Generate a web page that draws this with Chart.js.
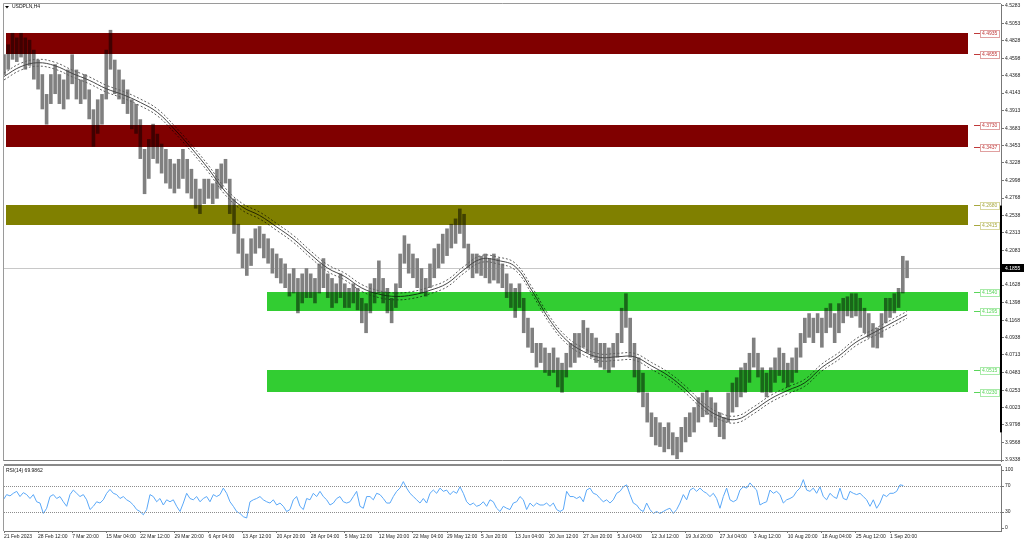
<!DOCTYPE html>
<html><head><meta charset="utf-8">
<script src="https://cdn.jsdelivr.net/npm/chart.js@4"></script>
<style>
html,body{margin:0;padding:0;background:#fff;width:1024px;height:544px;overflow:hidden}
#main{position:absolute;left:0;top:0;width:1024px;height:465px}
#rsi{position:absolute;left:0;top:464px;width:1024px;height:80px}
</style></head><body>
<div id="main"><canvas id="c1"></canvas></div>
<div id="rsi"><canvas id="c2"></canvas></div>
<script>
// ---------------- DATA ----------------
const symbolTitle = 'USDPLN,H4';
const rsiTitle = 'RSI(14) 69.9862';
const xLabels = ['21 Feb 2023','28 Feb 12:00','7 Mar 20:00','15 Mar 04:00','22 Mar 12:00','29 Mar 20:00','6 Apr 04:00','13 Apr 12:00','20 Apr 20:00','28 Apr 04:00','5 May 12:00','12 May 20:00','22 May 04:00','29 May 12:00','5 Jun 20:00','13 Jun 04:00','20 Jun 12:00','27 Jun 20:00','5 Jul 04:00','12 Jul 12:00','19 Jul 20:00','27 Jul 04:00','3 Aug 12:00','10 Aug 20:00','18 Aug 04:00','25 Aug 12:00','1 Sep 20:00'];
const barsPerLabel = 32;
const visibleBars = 936.2;

const priceTicks = [4.5283,4.5053,4.4828,4.4598,4.4368,4.4143,4.3913,4.3683,4.3453,4.3228,4.2998,4.2768,4.2538,4.2313,4.2083,4.1628,4.1398,4.1168,4.0938,4.0713,4.0483,4.0253,4.0023,3.9798,3.9568,3.9338];
const priceMin = 3.9325, priceMax = 4.5309;
const lastPrice = 4.1855;
const rangeMarker = [3.970, 4.267];

// candles: one range per 4 H4 bars
const candleStep = 4;
const candleLow = [
4.438,4.445,4.458,4.455,4.461,4.445,4.450,4.432,4.419,4.393,
4.373,4.400,4.413,4.400,4.393,4.406,4.426,4.406,4.400,4.406,
4.380,4.344,4.361,4.373,4.406,4.445,4.413,4.406,4.400,4.387,
4.367,4.361,4.328,4.282,4.302,4.328,4.322,4.309,4.296,4.289,
4.283,4.289,4.302,4.283,4.276,4.263,4.256,4.269,4.276,4.269,
4.276,4.289,4.296,4.256,4.230,4.204,4.185,4.175,4.188,4.204,
4.211,4.198,4.191,4.178,4.172,4.165,4.159,4.148,4.152,4.126,
4.139,4.146,4.146,4.139,4.152,4.159,4.146,4.133,4.139,4.146,
4.133,4.133,4.139,4.130,4.113,4.100,4.126,4.139,4.152,4.139,
4.126,4.113,4.133,4.159,4.191,4.178,4.172,4.159,4.152,4.148,
4.159,4.172,4.185,4.191,4.201,4.211,4.217,4.230,4.211,4.185,
4.172,4.178,4.175,4.172,4.165,4.169,4.165,4.159,4.146,4.133,
4.120,4.133,4.100,4.081,4.074,4.055,4.061,4.048,4.044,4.048,
4.029,4.022,4.042,4.055,4.061,4.068,4.081,4.074,4.068,4.061,
4.055,4.052,4.048,4.055,4.068,4.087,4.107,4.068,4.042,4.022,
4.003,3.983,3.964,3.953,3.951,3.944,3.948,3.940,3.935,3.944,
3.957,3.964,3.970,3.983,3.990,3.993,3.983,3.977,3.964,3.961,
3.983,3.996,4.003,4.016,4.022,4.035,4.055,4.042,4.022,4.016,
4.022,4.035,4.044,4.035,4.029,4.035,4.048,4.068,4.087,4.094,
4.087,4.100,4.081,4.100,4.107,4.087,4.100,4.113,4.122,4.120,
4.122,4.107,4.100,4.094,4.081,4.080,4.094,4.113,4.120,4.126,
4.133,4.152,4.172];
const candleHigh = [
4.465,4.478,4.493,4.487,4.493,4.487,4.484,4.471,4.458,4.439,
4.413,4.439,4.452,4.439,4.432,4.445,4.465,4.445,4.432,4.439,
4.419,4.393,4.406,4.413,4.471,4.497,4.458,4.445,4.432,4.419,
4.406,4.400,4.380,4.341,4.354,4.374,4.361,4.348,4.341,4.328,
4.322,4.328,4.341,4.328,4.315,4.302,4.289,4.302,4.302,4.296,
4.315,4.322,4.328,4.302,4.276,4.243,4.224,4.204,4.224,4.237,
4.240,4.230,4.224,4.211,4.204,4.198,4.191,4.178,4.185,4.172,
4.178,4.185,4.178,4.172,4.191,4.198,4.178,4.172,4.165,4.178,
4.165,4.159,4.165,4.159,4.146,4.139,4.165,4.172,4.195,4.172,
4.159,4.146,4.165,4.204,4.228,4.217,4.204,4.198,4.185,4.172,
4.191,4.211,4.217,4.230,4.237,4.243,4.250,4.263,4.256,4.217,
4.204,4.204,4.201,4.204,4.198,4.204,4.198,4.191,4.178,4.165,
4.159,4.165,4.146,4.120,4.107,4.087,4.087,4.081,4.074,4.081,
4.068,4.061,4.074,4.087,4.100,4.100,4.117,4.107,4.100,4.094,
4.087,4.087,4.081,4.087,4.100,4.133,4.152,4.120,4.087,4.068,
4.048,4.022,3.996,3.990,3.983,3.977,3.983,3.970,3.964,3.977,
3.990,3.996,4.003,4.016,4.022,4.025,4.016,4.009,3.996,3.990,
4.022,4.035,4.042,4.055,4.061,4.074,4.094,4.074,4.055,4.048,
4.055,4.068,4.081,4.074,4.061,4.068,4.081,4.100,4.120,4.126,
4.120,4.126,4.120,4.133,4.139,4.126,4.139,4.146,4.148,4.152,
4.152,4.146,4.133,4.126,4.113,4.107,4.126,4.146,4.146,4.152,
4.159,4.201,4.195];

// moving average and envelopes, one value per 16 bars
const maStep = 16;
const maMid = [4.436,4.449,4.454,4.450,4.440,4.431,4.420,4.412,4.402,4.389,4.367,4.342,4.315,4.285,4.265,4.254,4.239,4.223,4.203,4.185,4.174,4.159,4.151,4.148,4.150,4.156,4.165,4.183,4.197,4.195,4.187,4.155,4.118,4.091,4.076,4.068,4.069,4.069,4.057,4.044,4.026,4.005,3.991,3.987,3.999,4.014,4.025,4.035,4.055,4.070,4.088,4.100,4.112,4.124];
const maUpper = [4.4405,4.4535,4.4585,4.4545,4.4445,4.4355,4.4245,4.4165,4.4065,4.3935,4.3715,4.3465,4.3195,4.2895,4.2695,4.2585,4.2435,4.2275,4.2075,4.1895,4.1785,4.1635,4.1555,4.1525,4.1545,4.1605,4.1695,4.1875,4.2015,4.1995,4.1915,4.1595,4.1225,4.0955,4.0805,4.0725,4.0735,4.0735,4.0615,4.0485,4.0305,4.0095,3.9955,3.9915,4.0035,4.0185,4.0295,4.0395,4.0595,4.0745,4.0925,4.1045,4.1165,4.1285];
const maLower = [4.4315,4.4445,4.4495,4.4455,4.4355,4.4265,4.4155,4.4075,4.3975,4.3845,4.3625,4.3375,4.3105,4.2805,4.2605,4.2495,4.2345,4.2185,4.1985,4.1805,4.1695,4.1545,4.1465,4.1435,4.1455,4.1515,4.1605,4.1785,4.1925,4.1905,4.1825,4.1505,4.1135,4.0865,4.0715,4.0635,4.0645,4.0645,4.0525,4.0395,4.0215,4.0005,3.9865,3.9825,3.9945,4.0095,4.0205,4.0305,4.0505,4.0655,4.0835,4.0955,4.1075,4.1195];

// zones (supply / demand)
const zoneTop    = [4.4935, 4.3730, 4.2680, 4.1540, 4.0515];
const zoneBottom = [4.4655, 4.3437, 4.2415, 4.1295, 4.0230];
const zoneFromBar = [2, 2, 2, 247, 247];
const zoneToBar   = [905, 905, 905, 905, 905];
const zoneKind    = ['red','red','olive','green','green'];

// RSI(14) samples
const rsiStartBar = -0.63, rsiStep = 3.13;
const rsiValues = [
48,56,54,58,61,53,59,56,50,56,45,43,27,35,53,56,50,53,45,38,
56,63,58,53,56,48,33,38,45,43,48,58,64,58,56,50,53,48,45,40,
33,30,25,33,56,53,45,50,40,48,45,48,38,30,43,58,50,48,53,45,
50,53,45,56,53,56,66,58,45,38,30,27,22,20,45,48,50,53,48,45,
43,48,40,43,38,30,33,48,53,38,33,50,48,58,53,61,53,48,40,43,
50,53,45,43,45,53,61,38,35,53,53,48,58,56,50,43,43,53,61,66,
76,66,58,53,48,43,50,43,58,63,58,66,61,63,56,61,58,68,58,45,
40,43,38,40,45,38,48,45,35,30,
38,35,33,43,45,53,48,33,43,38,43,40,40,43,38,43,33,30,33,61,
53,53,50,53,45,63,66,58,56,50,45,48,43,48,58,61,68,71,56,43,
40,33,30,43,33,27,30,27,30,33,35,27,33,43,56,48,63,66,61,66,
61,58,53,58,50,35,53,66,48,45,48,63,68,66,74,68,63,40,43,45,
63,58,61,56,43,48,50,53,61,66,79,63,61,66,58,68,53,48,58,53,
50,66,50,48,61,58,56,58,53,48,38,48,35,43,56,53,58,58,61,71,
69.99];
const rsiLevels = [70, 30];
const rsiAxisTicks = [100, 70, 30, 0];

// ---------------- STYLE ----------------
const FONT = "'Liberation Sans', Arial, sans-serif";
const zoneStyle = {
  red:   {fill:'#800000', text:'#c03a3a', border:'#e0a0a0', line:'#c03a3a'},
  olive: {fill:'#808000', text:'#a8a840', border:'#d8d8a0', line:'#a8a840'},
  green: {fill:'#32cd32', text:'#5ad65a', border:'#a8eaa8', line:'#5ad65a'}
};
Chart.defaults.font.family = FONT;
Chart.defaults.font.size = 5;
Chart.defaults.color = '#222';

const candleData = candleLow.map((lo,k)=>({x:k*candleStep, y:[lo, candleHigh[k]]}));
const toLine = arr => arr.map((v,j)=>({x:j*maStep, y:v}));
const rsiData = rsiValues.map((v,i)=>({x:rsiStartBar + i*rsiStep, y:v}));

function font(sz){ return sz + 'px ' + FONT; }

const mainPlugin = {
  id:'mainDeco',
  beforeDatasetsDraw(chart){
    const {ctx, chartArea:a, scales:{y}} = chart;
    ctx.save();
    ctx.strokeStyle = '#c8c8c8'; ctx.lineWidth = 1;
    const yb = Math.round(y.getPixelForValue(lastPrice)) + 0.5;
    ctx.beginPath(); ctx.moveTo(a.left, yb); ctx.lineTo(a.right, yb); ctx.stroke();
    ctx.restore();
  },
  afterDatasetsDraw(chart){
    const {ctx, chartArea:a, scales:{x,y}} = chart;
    ctx.save();
    ctx.beginPath(); ctx.rect(a.left, a.top, a.right-a.left, a.bottom-a.top); ctx.clip();
    ctx.globalCompositeOperation = 'multiply';
    zoneTop.forEach((t,i)=>{
      const st = zoneStyle[zoneKind[i]];
      const x0 = x.getPixelForValue(zoneFromBar[i]), x1 = x.getPixelForValue(zoneToBar[i]);
      const y0 = y.getPixelForValue(t), y1 = y.getPixelForValue(zoneBottom[i]);
      ctx.fillStyle = st.fill;
      ctx.fillRect(Math.round(x0), Math.round(y0), Math.round(x1-x0), Math.round(y1-y0));
    });
    ctx.restore();

    ctx.save();
    ctx.font = font(5);
    ctx.textBaseline = 'middle';
    zoneTop.forEach((t,i)=>{
      const st = zoneStyle[zoneKind[i]];
      [t, zoneBottom[i]].forEach(v=>{
        const txt = v.toFixed(4);
        const w = Math.ceil(ctx.measureText(txt).width) + 4;
        const yy = Math.round(y.getPixelForValue(v));
        const bx = Math.round(a.right) - 1 - w;
        ctx.strokeStyle = st.line; ctx.lineWidth = 1;
        ctx.beginPath(); ctx.moveTo(bx-6, yy+0.5); ctx.lineTo(bx, yy+0.5); ctx.stroke();
        ctx.fillStyle = '#fff'; ctx.fillRect(bx, yy-3, w, 8);
        ctx.strokeStyle = st.border; ctx.strokeRect(bx+0.5, yy-3+0.5, w-1, 7);
        ctx.fillStyle = st.text; ctx.textAlign = 'left';
        ctx.fillText(txt, bx+2, yy+1);
      });
    });
    ctx.strokeStyle = '#9a9a9a'; ctx.lineWidth = 1;
    ctx.beginPath();
    ctx.moveTo(a.left-0.5, a.bottom); ctx.lineTo(a.left-0.5, a.top-0.5); ctx.lineTo(a.right, a.top-0.5);
    ctx.stroke();
    ctx.strokeStyle = '#808080';
    ctx.beginPath(); ctx.moveTo(a.left, a.bottom-0.5); ctx.lineTo(a.right, a.bottom-0.5); ctx.stroke();
    ctx.fillStyle = '#000';
    const r0 = y.getPixelForValue(rangeMarker[1]), r1 = y.getPixelForValue(rangeMarker[0]);
    ctx.fillRect(Math.round(a.right)-1, r0, 2, r1-r0);
    const yp = Math.round(y.getPixelForValue(lastPrice));
    ctx.fillStyle = '#000';
    ctx.fillRect(Math.round(a.right), yp-4, 23, 8);
    ctx.fillStyle = '#fff'; ctx.font = font(5); ctx.textAlign='left'; ctx.textBaseline='middle';
    ctx.fillText(lastPrice.toFixed(4), Math.round(a.right)+4, yp+0.5);
    ctx.fillStyle = '#000';
    ctx.beginPath(); ctx.moveTo(a.left+1, a.top+2); ctx.lineTo(a.left+5, a.top+2); ctx.lineTo(a.left+3, a.top+4.5); ctx.closePath(); ctx.fill();
    ctx.font = font(5); ctx.textBaseline='middle'; ctx.textAlign='left';
    ctx.fillStyle = '#111';
    ctx.fillText(symbolTitle, a.left+8, a.top+3);
    ctx.restore();
  }
};

new Chart(document.getElementById('c1'), {
  type:'bar',
  data:{datasets:[
    {type:'bar', data:candleData, backgroundColor:'#808080', borderWidth:0, barPercentage:0.85, categoryPercentage:1, order:3},
    {type:'line', data:toLine(maUpper), borderColor:'#606060', borderWidth:1, borderDash:[2,2], pointRadius:0, tension:0.4, order:1},
    {type:'line', data:toLine(maMid), borderColor:'#484848', borderWidth:1, pointRadius:0, tension:0.4, order:1},
    {type:'line', data:toLine(maLower), borderColor:'#606060', borderWidth:1, borderDash:[2,2], pointRadius:0, tension:0.4, order:1}
  ]},
  options:{
    responsive:true, maintainAspectRatio:false, animation:false, events:[],
    layout:{padding:{left:4, top:4, right:0, bottom:1}},
    plugins:{legend:{display:false}, tooltip:{enabled:false}},
    scales:{
      x:{type:'linear', min:0, max:visibleBars, display:false, offset:false},
      y:{type:'linear', position:'right', min:priceMin, max:priceMax,
         afterFit(s){ s.width = 23; },
         afterBuildTicks(s){ s.ticks = priceTicks.map(v=>({value:v})); },
         ticks:{autoSkip:false, padding:1, color:'#222', font:{size:5}, callback:v=>Number(v).toFixed(4)},
         grid:{drawOnChartArea:false, tickLength:3, color:'#777'},
         border:{color:'#777'}}
    }
  },
  plugins:[mainPlugin]
});

const rsiPlugin = {
  id:'rsiDeco',
  afterDatasetsDraw(chart){
    const {ctx, chartArea:a, scales:{y}} = chart;
    ctx.save();
    ctx.fillStyle = '#8a8a8a';
    ctx.fillRect(a.left, a.top-2, a.right-a.left, 2);
    ctx.strokeStyle = '#9a9a9a'; ctx.lineWidth = 1;
    ctx.beginPath(); ctx.moveTo(a.left-0.5, a.top); ctx.lineTo(a.left-0.5, a.bottom); ctx.stroke();
    ctx.strokeStyle = '#8c8c8c'; ctx.setLineDash([1,1]);
    rsiLevels.forEach(l=>{
      const yy = Math.round(y.getPixelForValue(l)) + 0.5;
      ctx.beginPath(); ctx.moveTo(a.left, yy); ctx.lineTo(a.right, yy); ctx.stroke();
    });
    ctx.setLineDash([]);
    ctx.fillStyle = '#222'; ctx.font = font(5); ctx.textAlign='left'; ctx.textBaseline='middle';
    rsiAxisTicks.forEach(v=>{
      let yy = y.getPixelForValue(v);
      yy = Math.min(Math.max(yy, a.top+4), a.bottom-3);
      ctx.fillText(String(v), a.right+4, yy);
      ctx.strokeStyle = '#777';
      ctx.beginPath(); ctx.moveTo(a.right, Math.round(yy)+0.5); ctx.lineTo(a.right+3, Math.round(yy)+0.5); ctx.stroke();
    });
    ctx.fillStyle = '#111';
    ctx.fillText(rsiTitle, a.left+2, a.top+5);
    ctx.restore();
  }
};

new Chart(document.getElementById('c2'), {
  type:'line',
  data:{datasets:[{data:rsiData, borderColor:'#5aa8f8', borderWidth:1, pointRadius:0, tension:0}]},
  options:{
    responsive:true, maintainAspectRatio:false, animation:false, events:[],
    layout:{padding:{left:4, top:2, right:0, bottom:0}},
    plugins:{legend:{display:false}, tooltip:{enabled:false}},
    scales:{
      x:{type:'linear', min:0, max:visibleBars, offset:false,
         afterFit(s){ s.height = 13; },
         afterBuildTicks(s){ s.ticks = xLabels.map((_,i)=>({value:i*barsPerLabel})); },
         ticks:{autoSkip:false, maxRotation:0, minRotation:0, align:'start', padding:1, color:'#222', font:{size:5},
                callback:(v,i)=>xLabels[i]},
         grid:{drawOnChartArea:false, tickLength:2, color:'#777'},
         border:{color:'#777'}},
      y:{type:'linear', position:'right', min:0, max:100,
         afterFit(s){ s.width = 23; },
         ticks:{display:false}, grid:{display:false},
         border:{color:'#777'}}
    }
  },
  plugins:[rsiPlugin]
});
</script>
</body></html>
